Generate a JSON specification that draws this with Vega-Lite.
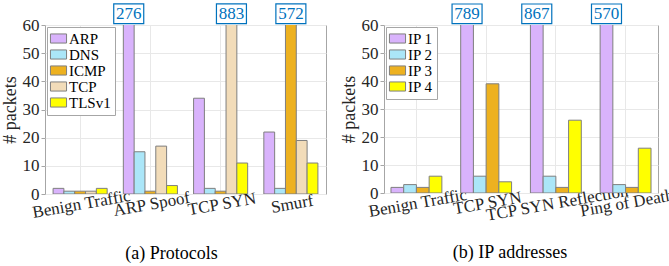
{
  "$schema": "https://vega.github.io/schema/vega-lite/v6.json",
  "padding": {"left": 0, "top": 1, "right": 4, "bottom": 2},
  "background": "white",
  "config": {
    "font": "Liberation Serif, Times New Roman, serif",
    "view": {"stroke": "#a6a6a6", "strokeWidth": 1},
    "axis": {
      "labelFont": "Liberation Serif, Times New Roman, serif", "labelFontSize": 17, "labelColor": "#262626",
      "titleFont": "Liberation Serif, Times New Roman, serif", "titleFontSize": 18, "titleFontWeight": "normal", "titleColor": "#262626",
      "domainColor": "#a6a6a6", "tickColor": "#a6a6a6", "gridColor": "#e8e8e8", "gridWidth": 1
    },
    "legend": {
      "labelFont": "Liberation Serif, Times New Roman, serif", "labelFontSize": 15, "labelColor": "#000000",
      "orient": "top-left", "offset": 2, "padding": 4, "rowPadding": 0,
      "strokeColor": "#a6a6a6", "fillColor": "white",
      "symbolType": "M-1.15,-0.65H1.15V0.65H-1.15Z", "symbolSize": 196,
      "symbolStrokeColor": "#7f7f7f", "symbolStrokeWidth": 1, "symbolOpacity": 1,
      "labelOffset": 3,
      "title": null
    },
    "title": {"font": "Liberation Serif, Times New Roman, serif", "fontSize": 18, "fontWeight": "normal", "color": "#000000"}
  },
  "resolve": {
    "scale": {"color": "independent", "x": "independent", "xOffset": "independent", "y": "independent"},
    "legend": {"color": "independent"}
  },
  "spacing": 12,
  "hconcat": [
    {
      "width": 281,
      "height": 169,
      "title": {"text": "(a)  Protocols", "orient": "bottom", "offset": 25, "dx": -14},
      "data": {"values": [
        {"attack": "Benign Traffic", "protocol": "ARP", "packets": 2},
        {"attack": "Benign Traffic", "protocol": "DNS", "packets": 1},
        {"attack": "Benign Traffic", "protocol": "ICMP", "packets": 1},
        {"attack": "Benign Traffic", "protocol": "TCP", "packets": 1},
        {"attack": "Benign Traffic", "protocol": "TLSv1", "packets": 2},
        {"attack": "ARP Spoof", "protocol": "ARP", "packets": 276},
        {"attack": "ARP Spoof", "protocol": "DNS", "packets": 15},
        {"attack": "ARP Spoof", "protocol": "ICMP", "packets": 1},
        {"attack": "ARP Spoof", "protocol": "TCP", "packets": 17},
        {"attack": "ARP Spoof", "protocol": "TLSv1", "packets": 3},
        {"attack": "TCP SYN", "protocol": "ARP", "packets": 34},
        {"attack": "TCP SYN", "protocol": "DNS", "packets": 2},
        {"attack": "TCP SYN", "protocol": "ICMP", "packets": 1},
        {"attack": "TCP SYN", "protocol": "TCP", "packets": 883},
        {"attack": "TCP SYN", "protocol": "TLSv1", "packets": 11},
        {"attack": "Smurf", "protocol": "ARP", "packets": 22},
        {"attack": "Smurf", "protocol": "DNS", "packets": 2},
        {"attack": "Smurf", "protocol": "ICMP", "packets": 572},
        {"attack": "Smurf", "protocol": "TCP", "packets": 19},
        {"attack": "Smurf", "protocol": "TLSv1", "packets": 11}
      ]},
      "encoding": {
        "x": {
          "field": "attack", "type": "nominal",
          "sort": ["Benign Traffic", "ARP Spoof", "TCP SYN", "Smurf"],
          "scale": {"paddingInner": 0.23, "paddingOuter": 0.115},
          "axis": {"title": null, "labelAngle": -10, "labelAlign": "center", "labelBaseline": "top", "labelPadding": 2, "grid": true, "ticks": false, "domain": false, "labelOverlap": false}
        },
        "xOffset": {
          "field": "protocol", "type": "nominal",
          "sort": ["ARP", "DNS", "ICMP", "TCP", "TLSv1"],
          "scale": {"paddingInner": 0, "paddingOuter": 0}
        }
      },
      "layer": [
        {
          "mark": {"type": "bar", "clip": true, "stroke": "#7f7f7f", "strokeWidth": 1, "opacity": 1},
          "encoding": {
            "y": {
              "field": "packets", "type": "quantitative",
              "scale": {"domain": [0, 60], "nice": false},
              "axis": {"title": "# packets", "values": [0, 10, 20, 30, 40, 50, 60], "labelOverlap": false, "tickSize": 4, "labelPadding": 2, "titlePadding": 3, "domain": false}
            },
            "color": {
              "field": "protocol", "type": "nominal",
              "sort": ["ARP", "DNS", "ICMP", "TCP", "TLSv1"],
              "scale": {"domain": ["ARP", "DNS", "ICMP", "TCP", "TLSv1"], "range": ["#d9b3fc", "#abe6f8", "#edb120", "#f2dcb9", "#ffff00"]}
            }
          }
        },
        {
          "transform": [{"filter": "datum.packets > 60"}],
          "mark": {"type": "point", "shape": "M-1,-0.655H1V0.655H-1Z", "size": 900, "filled": true, "fill": "white", "stroke": "#0072bd", "strokeWidth": 1.2, "opacity": 1, "clip": false},
          "encoding": {"y": {"datum": 64, "type": "quantitative", "axis": {"title": "# packets", "values": [0, 10, 20, 30, 40, 50, 60], "labelOverlap": false, "tickSize": 4, "labelPadding": 2, "titlePadding": 3, "domain": false}}}
        },
        {
          "transform": [{"filter": "datum.packets > 60"}],
          "mark": {"type": "text", "color": "#0072bd", "fontSize": 17, "font": "Liberation Serif, Times New Roman, serif", "baseline": "middle", "clip": false},
          "encoding": {"y": {"datum": 64, "type": "quantitative", "axis": {"title": "# packets", "values": [0, 10, 20, 30, 40, 50, 60], "labelOverlap": false, "tickSize": 4, "labelPadding": 2, "titlePadding": 3, "domain": false}}, "text": {"field": "packets", "type": "quantitative"}}
        }
      ]
    },
    {
      "width": 274,
      "height": 168,
      "title": {"text": "(b)  IP addresses", "orient": "bottom", "offset": 21, "dx": -11},
      "data": {"values": [
        {"attack": "Benign Traffic", "ip": "IP 1", "packets": 2},
        {"attack": "Benign Traffic", "ip": "IP 2", "packets": 3},
        {"attack": "Benign Traffic", "ip": "IP 3", "packets": 2},
        {"attack": "Benign Traffic", "ip": "IP 4", "packets": 6},
        {"attack": "TCP SYN", "ip": "IP 1", "packets": 789},
        {"attack": "TCP SYN", "ip": "IP 2", "packets": 6},
        {"attack": "TCP SYN", "ip": "IP 3", "packets": 39},
        {"attack": "TCP SYN", "ip": "IP 4", "packets": 4},
        {"attack": "TCP SYN Reflection", "ip": "IP 1", "packets": 867},
        {"attack": "TCP SYN Reflection", "ip": "IP 2", "packets": 6},
        {"attack": "TCP SYN Reflection", "ip": "IP 3", "packets": 2},
        {"attack": "TCP SYN Reflection", "ip": "IP 4", "packets": 26},
        {"attack": "Ping of Death", "ip": "IP 1", "packets": 570},
        {"attack": "Ping of Death", "ip": "IP 2", "packets": 3},
        {"attack": "Ping of Death", "ip": "IP 3", "packets": 2},
        {"attack": "Ping of Death", "ip": "IP 4", "packets": 16}
      ]},
      "encoding": {
        "x": {
          "field": "attack", "type": "nominal",
          "sort": ["Benign Traffic", "TCP SYN", "TCP SYN Reflection", "Ping of Death"],
          "scale": {"paddingInner": 0.27, "paddingOuter": 0.1},
          "axis": {"title": null, "labelAngle": -10, "labelAlign": "center", "labelBaseline": "top", "labelPadding": 2, "grid": true, "ticks": false, "domain": false, "labelOverlap": false}
        },
        "xOffset": {
          "field": "ip", "type": "nominal",
          "sort": ["IP 1", "IP 2", "IP 3", "IP 4"],
          "scale": {"paddingInner": 0, "paddingOuter": 0}
        }
      },
      "layer": [
        {
          "mark": {"type": "bar", "clip": true, "stroke": "#7f7f7f", "strokeWidth": 1, "opacity": 1},
          "encoding": {
            "y": {
              "field": "packets", "type": "quantitative",
              "scale": {"domain": [0, 60], "nice": false},
              "axis": {"title": "# packets", "values": [0, 10, 20, 30, 40, 50, 60], "labelOverlap": false, "tickSize": 4, "labelPadding": 2, "titlePadding": 3, "domain": false}
            },
            "color": {
              "field": "ip", "type": "nominal",
              "sort": ["IP 1", "IP 2", "IP 3", "IP 4"],
              "scale": {"domain": ["IP 1", "IP 2", "IP 3", "IP 4"], "range": ["#d9b3fc", "#abe6f8", "#edb120", "#ffff00"]}
            }
          }
        },
        {
          "transform": [{"filter": "datum.packets > 60"}],
          "mark": {"type": "point", "shape": "M-1,-0.655H1V0.655H-1Z", "size": 900, "filled": true, "fill": "white", "stroke": "#0072bd", "strokeWidth": 1.2, "opacity": 1, "clip": false},
          "encoding": {"y": {"datum": 64, "type": "quantitative", "axis": {"title": "# packets", "values": [0, 10, 20, 30, 40, 50, 60], "labelOverlap": false, "tickSize": 4, "labelPadding": 2, "titlePadding": 3, "domain": false}}}
        },
        {
          "transform": [{"filter": "datum.packets > 60"}],
          "mark": {"type": "text", "color": "#0072bd", "fontSize": 17, "font": "Liberation Serif, Times New Roman, serif", "baseline": "middle", "clip": false},
          "encoding": {"y": {"datum": 64, "type": "quantitative", "axis": {"title": "# packets", "values": [0, 10, 20, 30, 40, 50, 60], "labelOverlap": false, "tickSize": 4, "labelPadding": 2, "titlePadding": 3, "domain": false}}, "text": {"field": "packets", "type": "quantitative"}}
        }
      ]
    }
  ]
}
